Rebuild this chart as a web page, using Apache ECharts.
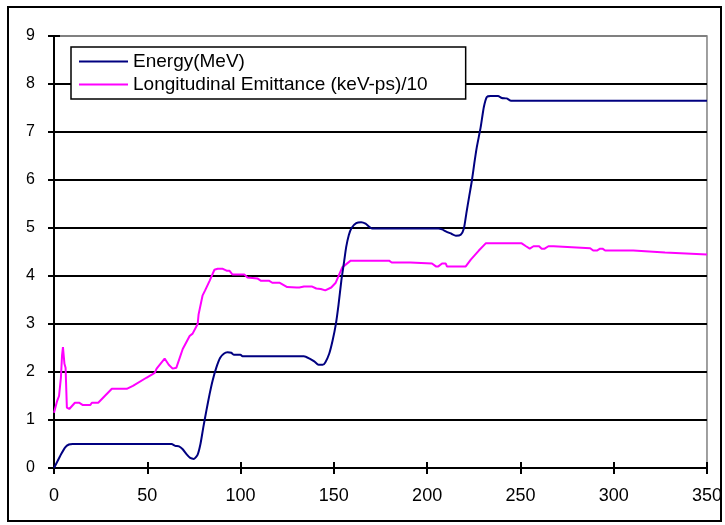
<!DOCTYPE html>
<html>
<head>
<meta charset="utf-8">
<script src="https://cdn.jsdelivr.net/npm/echarts@6/dist/echarts.min.js"></script>
<style>
  html, body { margin: 0; padding: 0; background: #fff; }
  #chart { width: 725px; height: 525px; }
</style>
</head>
<body>
<div id="chart"></div>
<script>
// Energy(MeV) along the linac
var energyX = [0, 2, 4, 6, 8, 10, 63, 65, 67, 69, 71, 73, 75, 77, 78.5, 80, 81.7, 83.4, 85, 87, 89, 91, 93, 95, 96.5, 100, 101,
  134, 137, 139.5, 141.8, 144, 145.4, 147.5, 149.3, 151, 152.5, 154, 155.5, 156.6, 158, 159.5, 162, 164.6, 167, 170.5,
  206, 208, 210, 213, 215.4, 218, 219.7, 221, 222.5, 224, 225.3, 226.6, 228.7, 230.4, 232, 234, 238, 240, 242.6, 245, 350];
var energyY = [0, 0.15, 0.3, 0.43, 0.49, 0.5, 0.5, 0.46, 0.45, 0.39, 0.29, 0.21, 0.19, 0.28, 0.5, 0.84, 1.2, 1.54, 1.82, 2.09, 2.29, 2.38, 2.41, 2.4, 2.36, 2.36, 2.33,
  2.33, 2.28, 2.22, 2.15, 2.15, 2.2, 2.38, 2.65, 2.98, 3.4, 3.9, 4.3, 4.6, 4.85, 5.0, 5.1, 5.12, 5.09, 4.99,
  4.99, 4.97, 4.93, 4.88, 4.84, 4.86, 4.99, 5.3, 5.65, 5.99, 6.35, 6.68, 7.1, 7.52, 7.73, 7.75, 7.75, 7.71, 7.7, 7.65, 7.65];

// Longitudinal Emittance (keV-ps)/10
var emitX = [0, 1, 1.7, 2.7, 3.7, 4.3, 4.8, 5.3, 5.6, 6.2, 6.9, 8.2, 11.2, 13.4, 15.5, 19.4, 20.3, 23.7, 31, 39, 39.8, 42.3, 49.5, 54, 55, 59.3,
  61.5, 63.6, 65.6, 69, 72.7, 74.3, 77, 77.5, 79.6, 81, 83.4, 86, 87.7, 90.5, 92.5, 94, 95.7, 102, 103.7, 109, 111, 115.4, 117, 120.8,
  125, 130, 131.5, 134, 138.4, 140.6, 143, 145.4, 148.6, 151, 154.5, 159, 179.6, 181, 191, 192, 202.6, 204.7, 206, 208, 210, 210.6,
  220.7, 223.4, 227.7, 231.4, 250.7, 253, 255, 257, 260, 261.4, 263, 265, 267.8, 268.8, 287.4, 289, 291, 292.7, 294, 295.4,
  310.5, 311.4, 327.5, 328, 350];
var emitY = [1.15, 1.15, 1.4, 1.5, 1.88, 2.34, 2.52, 2.5, 2.17, 2.09, 1.26, 1.23, 1.36, 1.36, 1.31, 1.31, 1.36, 1.36, 1.65, 1.65, 1.69, 1.71, 1.88, 1.98, 2.07, 2.28,
  2.15, 2.07, 2.09, 2.48, 2.75, 2.8, 3.0, 3.2, 3.59, 3.7, 3.9, 4.13, 4.15, 4.15, 4.11, 4.11, 4.03, 4.03, 3.97, 3.95, 3.9, 3.9, 3.86, 3.86,
  3.77, 3.76, 3.76, 3.78, 3.78, 3.74, 3.73, 3.7, 3.76, 3.86, 4.18, 4.32, 4.32, 4.28, 4.28, 4.26, 4.26, 4.2, 4.2, 4.26, 4.26, 4.2,
  4.2, 4.34, 4.53, 4.68, 4.68, 4.62, 4.57, 4.62, 4.62, 4.57, 4.57, 4.62, 4.62, 4.58, 4.58, 4.53, 4.53, 4.57, 4.57, 4.53,
  4.53, 4.49, 4.49, 4.45, 4.45];

var seriesNames = ['Energy(MeV)', 'Longitudinal Emittance (keV-ps)/10'];
var seriesColors = ['#000080', '#FF00FF'];

function pairs(xs, ys) {
  return xs.map(function (x, i) { return [x, ys[i]]; });
}

var chart = echarts.init(document.getElementById('chart'));

var font = 'Liberation Sans, Arial, sans-serif';
// top gridline sits on the grey plot border
var gridColors = [];
for (var i = 0; i < 10; i++) gridColors.push(i === 9 ? '#808080' : '#000');

chart.setOption({
  animation: false,
  backgroundColor: '#fff',
  graphic: [{
    type: 'rect',
    shape: { x: 8, y: 7, width: 713, height: 514 },
    style: { fill: 'none', stroke: '#000', lineWidth: 2 },
    z: 100
  }],
  grid: {
    left: 54, right: 18, top: 36, bottom: 57,
    show: true,
    borderColor: '#808080',
    borderWidth: 1.5
  },
  legend: {
    left: 71, top: 47,
    orient: 'vertical',
    backgroundColor: '#fff',
    borderColor: '#000',
    borderWidth: 1.5,
    padding: [5, 38, 5, 8],
    itemGap: 4,
    itemWidth: 49,
    itemHeight: 2,
    icon: 'rect',
    textStyle: { fontFamily: font, fontSize: 19, color: '#000', lineHeight: 19 },
    data: seriesNames
  },
  xAxis: [{
    type: 'value',
    min: 0, max: 350, interval: 50,
    axisLine: { show: true, onZero: false, lineStyle: { color: '#000', width: 2 } },
    axisTick: { show: true, length: 6, lineStyle: { color: '#000', width: 2 } },
    axisLabel: { fontFamily: font, fontSize: 18, color: '#000', margin: 19 },
    splitLine: { show: false }
  }, {
    type: 'value',
    position: 'bottom',
    min: 0, max: 350, interval: 50,
    axisLine: { show: false },
    axisTick: { show: true, inside: true, length: 6, lineStyle: { color: '#000', width: 2 } },
    axisLabel: { show: false },
    splitLine: { show: false }
  }],
  yAxis: [{
    type: 'value',
    min: 0, max: 9, interval: 1,
    axisLine: { show: true, onZero: false, lineStyle: { color: '#000', width: 2 } },
    axisTick: { show: true, length: 6, lineStyle: { color: '#000', width: 2 } },
    axisLabel: { fontFamily: font, fontSize: 16, color: '#000', margin: 19 },
    splitLine: { show: true, lineStyle: { color: gridColors, width: 2 } }
  }, {
    type: 'value',
    position: 'left',
    min: 0, max: 9, interval: 1,
    axisLine: { show: false },
    axisTick: { show: true, inside: true, length: 6, lineStyle: { color: '#000', width: 2 } },
    axisLabel: { show: false },
    splitLine: { show: false }
  }],
  series: [{
    name: seriesNames[0],
    type: 'line',
    data: pairs(energyX, energyY),
    showSymbol: false,
    smooth: 0.2,
    color: seriesColors[0],
    lineStyle: { color: seriesColors[0], width: 2 },
    z: 3
  }, {
    name: seriesNames[1],
    type: 'line',
    data: pairs(emitX, emitY),
    showSymbol: false,
    color: seriesColors[1],
    lineStyle: { color: seriesColors[1], width: 2 },
    z: 2
  }]
});
</script>
</body>
</html>
